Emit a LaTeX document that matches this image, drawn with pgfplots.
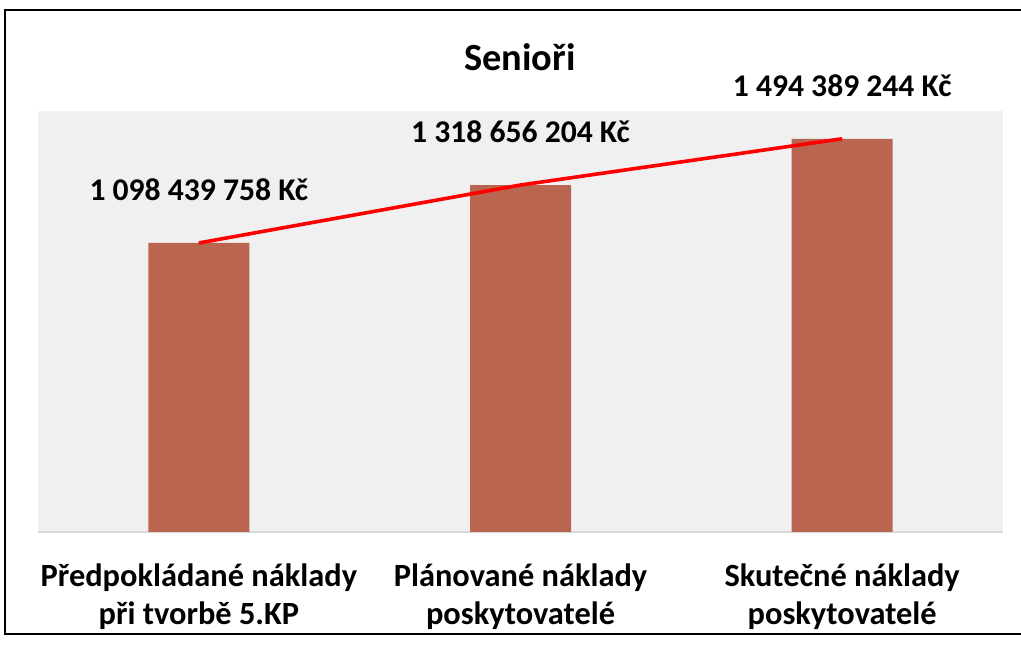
\documentclass[border=0pt]{standalone}
\usepackage{pgfplots}
\pgfplotsset{compat=1.18}
\usepackage{fontspec}
\setmainfont{Carlito}
\definecolor{barcol}{RGB}{185,101,80}
\definecolor{plotbg}{RGB}{240,240,240}
\definecolor{baseln}{RGB}{217,217,217}
\begin{document}
\begin{tikzpicture}
% page is 1021x646 px, 1 px = 0.5pt
\useasboundingbox (0pt,0pt) rectangle (510.5pt,323pt);

\begin{axis}[
  at={(19pt,57pt)}, anchor=south west,
  scale only axis, width=482.5pt, height=210.5pt,
  xmin=-0.5, xmax=2.5, ymin=0, ymax=1600000000,
  axis background/.style={fill=plotbg},
  axis x line=bottom, axis y line=none,
  x axis line style={baseln, line width=0.8pt, -},
  xtick={0,1,2}, xtick style={draw=none}, ytick=\empty,
  xticklabels={{Předpokládané náklady\\při tvorbě 5.KP},
               {Plánované náklady\\poskytovatelé},
               {Skutečné náklady\\poskytovatelé}},
  xticklabel style={align=center, font=\fontsize{16.2}{19}\selectfont\bfseries, yshift=-10pt},
  clip=false,
]
\addplot[ybar, bar width=50.5pt, fill=barcol, draw=none,
  point meta=explicit symbolic,
  nodes near coords,
  nodes near coords style={anchor=center, yshift=26.5pt, text=black,
    font=\fontsize{15.8}{17}\selectfont\bfseries}]
  coordinates {
    (0,1098439758) [1 098 439 758 Kč]
    (1,1318656204) [1 318 656 204 Kč]
    (2,1494389244) [1 494 389 244 Kč]
  };
\addplot[red, line width=1.8pt, mark=none]
  coordinates {(0,1098439758) (1,1318656204) (2,1494389244)};
\end{axis}

% outer frame (right side runs off the picture)
\draw[line width=1.2pt,black] (510.5pt,318pt) -- (2.5pt,318pt) -- (2.5pt,6pt) -- (510.5pt,6pt);
\node[font=\fontsize{19.2}{21}\selectfont\bfseries] at (260pt,294.5pt) {Senioři};
\end{tikzpicture}
\end{document}
